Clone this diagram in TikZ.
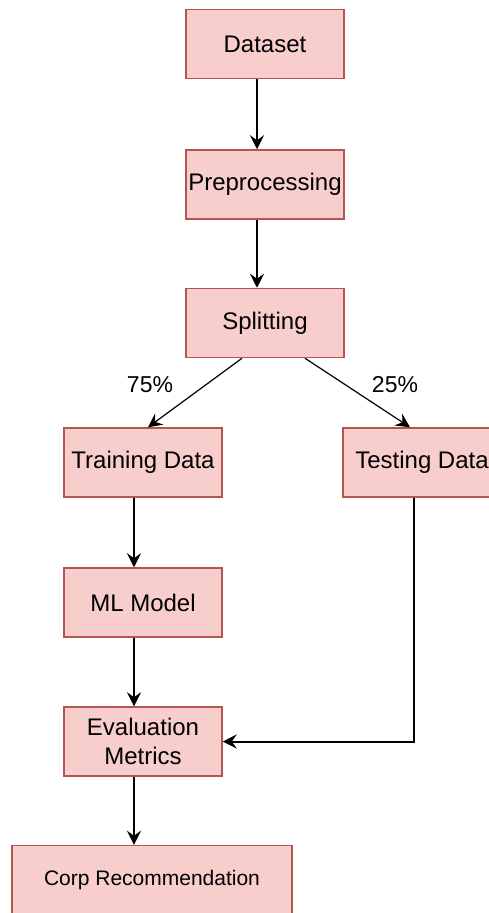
\documentclass[tikz,border=0pt]{standalone}
\usepackage{fontspec}
\setmainfont{Liberation Sans}
\usetikzlibrary{arrows.meta,calc}
\definecolor{boxfill}{HTML}{F8CECC}
\definecolor{boxline}{HTML}{B85450}
\begin{document}
\begin{tikzpicture}[x=1pt,y=-1pt,
  stepbox/.style={rectangle,draw=boxline,fill=boxfill,line width=1.5pt,
    minimum width=158pt,minimum height=69pt,inner sep=0pt,
    font=\fontsize{24}{29}\selectfont,align=center},
  flow/.style={-{Stealth[length=14pt,width=14pt,inset=5pt]},line width=2pt,black},
  thinflow/.style={-{Stealth[length=14pt,width=14pt,inset=5pt]},line width=1.2pt,black},
  share/.style={font=\fontsize{23}{27}\selectfont}]
\useasboundingbox (0,0) rectangle (489,913);
\clip (0,0) rectangle (489,913);

\node[stepbox] (dataset) at (265,44) {Dataset};
\node[stepbox] (pre) at (265,184.5) {Preprocessing};
\node[stepbox] (split) at (265,323) {Splitting};
\node[stepbox] (train) at (143,462.5) {Training Data};
\node[stepbox] (test) at (422,462.5) {Testing Data};
\node[stepbox] (ml) at (143,602.5) {ML Model};
\node[stepbox] (eval) at (143,741.5) {Evaluation\\Metrics};
\node[stepbox,minimum width=280pt,font=\fontsize{21}{25}\selectfont] (corp) at (152,880) {Corp Recommendation};

\coordinate (topaxis) at (257,0);
\coordinate (leftaxis) at (134,0);
\coordinate (rightaxis) at (414,0);

\draw[flow] (dataset.south -| topaxis) -- (pre.north -| topaxis);
\draw[flow] (pre.south -| topaxis) -- (split.north -| topaxis);
\draw[thinflow] ($(split.south)+(-23,0)$) -- ($(train.north)+(5,0)$);
\draw[thinflow] ($(split.south)+(40,0)$) -- ($(test.north)+(-12,0)$);
\draw[flow] (train.south -| leftaxis) -- (ml.north -| leftaxis);
\draw[thinflow] (ml.south -| leftaxis) -- (eval.north -| leftaxis);
\draw[flow] (test.south -| rightaxis) |- (eval.east);
\draw[thinflow] (eval.south -| leftaxis) -- (corp.north -| leftaxis);

\node[share] (p75) at (150,385) {75\%};
\node[share] (p25) at (395,385) {25\%};
\end{tikzpicture}
\end{document}
